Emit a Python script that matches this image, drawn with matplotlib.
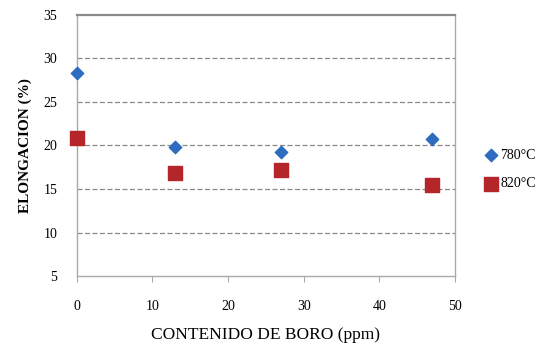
import matplotlib.pyplot as plt
import numpy as np

plt.rcParams['font.family'] = ['Liberation Serif', 'DejaVu Serif']

boro = [0, 13, 27, 47]
elong_780 = [28.3, 19.8, 19.3, 20.8]
elong_820 = [20.9, 16.8, 17.2, 15.5]

fig = plt.figure(figsize=(5.45, 3.46), dpi=100)
ax = fig.add_axes([0.141, 0.202, 0.694, 0.755])

ax.scatter(boro, elong_780, marker='D', s=40, color='#2f6cc0', label='780\u00b0C',
           zorder=3, clip_on=False)
ax.scatter(boro, elong_820, marker='s', s=95, color='#b5262a', label='820\u00b0C',
           zorder=3, clip_on=False)

ax.set_xlim(0, 50)
ax.set_ylim(5, 35)
ax.set_xticks(np.arange(0, 51, 10))
ax.set_yticks(np.arange(5, 36, 5))
for y in [10, 15, 20, 25, 30]:
    ax.axhline(y, color='#888888', lw=0.9, ls=(0, (4, 2)), zorder=1)

for s in ['left', 'bottom', 'right']:
    ax.spines[s].set_color('#aaaaaa')
    ax.spines[s].set_linewidth(1)
ax.spines['top'].set_color('#8a8a8a')
ax.spines['top'].set_linewidth(1.6)
ax.tick_params(axis='x', length=4, color='#aaaaaa', labelsize=10, pad=13)
ax.tick_params(axis='y', length=0, labelsize=10, pad=14)

ax.set_xlabel('CONTENIDO DE BORO (ppm)', fontsize=12.5, labelpad=10)
ax.set_ylabel('ELONGACION (%)', fontsize=11, fontweight='bold', labelpad=8)

fig.legend(loc='center left', bbox_to_anchor=(0.893, 0.51), frameon=False,
           fontsize=10, handlelength=0.6, handletextpad=0.4, labelspacing=1.1,
           borderaxespad=0, borderpad=0)

plt.savefig('out.png', dpi=100)
